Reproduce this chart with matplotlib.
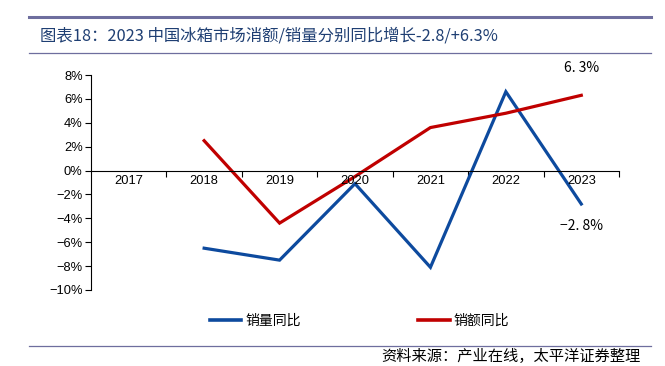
import matplotlib
matplotlib.use("Agg")
import matplotlib.pyplot as plt
from matplotlib.lines import Line2D
import numpy as np

plt.rcParams['font.family'] = ['Liberation Sans', 'Noto Sans CJK SC', 'DejaVu Sans']
plt.rcParams['axes.unicode_minus'] = True

years = ['2017', '2018', '2019', '2020', '2021', '2022', '2023']
volume_yoy = [np.nan, -6.5, -7.5, -1.1, -8.1, 6.6, -2.8]   # 销量同比
value_yoy = [np.nan, 2.5, -4.4, -0.5, 3.6, 4.8, 6.3]       # 销额同比
series_names = ['销量同比', '销额同比']
title_text = '图表18：2023 中国冰箱市场消额/销量分别同比增长-2.8/+6.3%'
source_text = '资料来源：产业在线，太平洋证券整理'

BLUE = '#0D4A9E'
RED = '#C00000'
RULE = '#6E6E9E'
TITLE_C = '#1F3F73'
CJK = ['Noto Sans CJK SC', 'DejaVu Sans']

W, H = 665, 366
fig = plt.figure(figsize=(W / 100, H / 100), dpi=100)

ax = fig.add_axes([91 / W, 1 - 290 / H, (619 - 91) / W, (290 - 75) / H])
x = np.arange(len(years))
l1, = ax.plot(x, volume_yoy, color=BLUE, lw=2.3, solid_joinstyle='miter', label=series_names[0])
l2, = ax.plot(x, value_yoy, color=RED, lw=2.3, solid_joinstyle='miter', label=series_names[1])

ax.set_xlim(-0.5, len(years) - 0.5)
ax.set_ylim(-10, 8)
ax.set_yticks(np.arange(-10, 9, 2))
ax.set_yticklabels([f'{v}%'.replace('-', '\u2212') for v in range(-10, 9, 2)], fontsize=9.3)
ax.tick_params(axis='y', direction='out', length=4, width=0.8, pad=2, colors='black')

# x axis at zero
ax.spines['bottom'].set_position(('data', 0))
ax.spines['top'].set_visible(False)
ax.spines['right'].set_visible(False)
ax.spines['left'].set_linewidth(0.8)
ax.spines['bottom'].set_linewidth(0.8)
ax.set_xticks(np.arange(0.5, len(years), 1.0))
ax.set_xticklabels([])
ax.tick_params(axis='x', direction='out', length=4, width=0.8)
for xi, yr in zip(x, years):
    ax.text(xi, -0.9, yr, ha='center', va='center', fontsize=9.3)

# annotations
ax.annotate('6. 3%', xy=(x[-1], value_yoy[-1]), xytext=(0, 20), textcoords='offset points',
            ha='center', va='center', fontsize=10, family=CJK)
ax.annotate('\u22122. 8%', xy=(x[-1], volume_yoy[-1]), xytext=(0, -16), textcoords='offset points',
            ha='center', va='center', fontsize=10, family=CJK)

# legend
leg = fig.legend(handles=[l1, l2], loc='center left', bbox_to_anchor=(197 / W, 1 - 321 / H),
                 ncol=2, frameon=False, handlelength=2.3, handletextpad=0.3,
                 columnspacing=8.4, prop={'family': CJK, 'size': 10})
for h in leg.get_lines():
    h.set_linewidth(2.6)

# rules and title
fig.add_artist(Line2D([29 / W, 651 / W], [1 - 17 / H] * 2, color=RULE, lw=2.2))
fig.add_artist(Line2D([29 / W, 651 / W], [1 - 53 / H] * 2, color=RULE, lw=0.9))
fig.add_artist(Line2D([29 / W, 651 / W], [1 - 346 / H] * 2, color=RULE, lw=0.9))
fig.text(40 / W, 1 - 36 / H, title_text, ha='left', va='center', fontsize=11.8,
         color=TITLE_C, family=CJK)
fig.text(641 / W, 1 - 356 / H, source_text, ha='right', va='center', fontsize=11,
         style='italic', family=CJK)

fig.savefig('out.png', dpi=100)
